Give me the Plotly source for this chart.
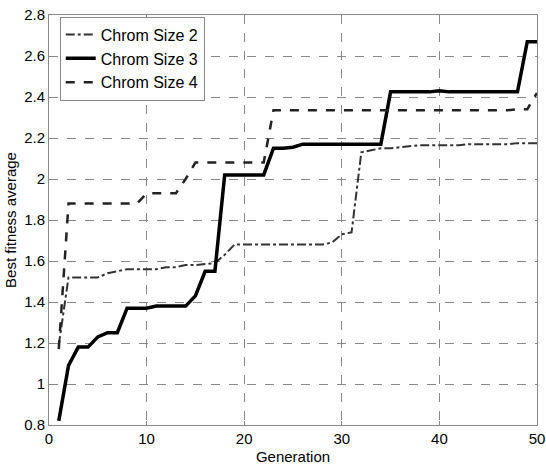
import plotly.graph_objects as go

generations = list(range(1, 51))

chrom2 = [1.19, 1.52, 1.52, 1.52, 1.52, 1.54, 1.55, 1.56, 1.56, 1.56,
          1.56, 1.57, 1.57, 1.58, 1.58, 1.585, 1.59, 1.63, 1.68, 1.68,
          1.68, 1.68, 1.68, 1.68, 1.68, 1.68, 1.68, 1.68, 1.69, 1.73,
          1.74, 2.13, 2.14, 2.15, 2.15, 2.155, 2.16, 2.165, 2.165, 2.165,
          2.165, 2.165, 2.17, 2.17, 2.17, 2.17, 2.17, 2.175, 2.175, 2.175]

chrom3 = [0.82, 1.09, 1.18, 1.18, 1.23, 1.25, 1.25, 1.37, 1.37, 1.37,
          1.38, 1.38, 1.38, 1.38, 1.43, 1.55, 1.55, 2.02, 2.02, 2.02,
          2.02, 2.02, 2.15, 2.15, 2.155, 2.17, 2.17, 2.17, 2.17, 2.17,
          2.17, 2.17, 2.17, 2.17, 2.425, 2.425, 2.425, 2.425, 2.425, 2.43,
          2.425, 2.425, 2.425, 2.425, 2.425, 2.425, 2.425, 2.425, 2.67, 2.67]

chrom4 = [1.17, 1.88, 1.88, 1.88, 1.88, 1.88, 1.88, 1.88, 1.88, 1.93,
          1.93, 1.93, 1.93, 2.0, 2.08, 2.08, 2.08, 2.08, 2.08, 2.08,
          2.08, 2.08, 2.335, 2.335, 2.335, 2.335, 2.335, 2.335, 2.335, 2.335,
          2.335, 2.335, 2.335, 2.335, 2.335, 2.335, 2.335, 2.335, 2.335, 2.335,
          2.335, 2.335, 2.335, 2.335, 2.335, 2.335, 2.335, 2.34, 2.34, 2.42]

series_names = ["Chrom Size 2", "Chrom Size 3", "Chrom Size 4"]
x_ticks = [0, 10, 20, 30, 40, 50]
y_ticks = [0.8, 1.0, 1.2, 1.4, 1.6, 1.8, 2.0, 2.2, 2.4, 2.6, 2.8]
y_tick_labels = ["0.8", "1", "1.2", "1.4", "1.6", "1.8", "2", "2.2", "2.4", "2.6", "2.8"]

fig = go.Figure()
fig.add_trace(go.Scatter(x=generations, y=chrom2, mode="lines", name=series_names[0],
                         line=dict(color="#333333", width=2, dash="dashdot")))
fig.add_trace(go.Scatter(x=generations, y=chrom3, mode="lines", name=series_names[1],
                         line=dict(color="#000000", width=3.5)))
fig.add_trace(go.Scatter(x=generations, y=chrom4, mode="lines", name=series_names[2],
                         line=dict(color="#222222", width=2.5, dash="dash")))

axis_font = dict(family="Liberation Sans, Arial, sans-serif", size=15, color="#000")

fig.update_layout(
    width=546, height=468,
    margin=dict(l=49, r=9, t=15, b=43, autoexpand=False),
    paper_bgcolor="white", plot_bgcolor="white",
    font=axis_font,
    showlegend=True,
    legend=dict(x=0.022, y=0.996, xanchor="left", yanchor="top",
                bgcolor="white", bordercolor="#888888", borderwidth=1,
                font=dict(family="Liberation Sans, Arial, sans-serif", size=16),
                tracegroupgap=0, itemwidth=30),
)
fig.update_xaxes(range=[0, 50], tickvals=x_ticks, ticktext=[str(t) for t in x_ticks],
                 showgrid=True, gridcolor="#888888", griddash="dash", gridwidth=1,
                 showline=True, linecolor="#888888", linewidth=1, mirror=True,
                 ticks="inside", ticklen=4, tickcolor="#888888", zeroline=False,
                 ticklabeloverflow="allow", automargin=False,
                 title=dict(text="Generation", font=dict(size=15), standoff=5),
                 tickfont=dict(size=15))
fig.update_yaxes(range=[0.8, 2.8], tickvals=y_ticks, ticktext=y_tick_labels,
                 showgrid=True, gridcolor="#888888", griddash="dash", gridwidth=1,
                 showline=True, linecolor="#888888", linewidth=1, mirror=True,
                 ticks="inside", ticklen=4, tickcolor="#888888", zeroline=False,
                 automargin=False,
                 title=dict(text="Best fitness average", font=dict(size=15), standoff=3),
                 tickfont=dict(size=15))

fig.write_html("out.html")
